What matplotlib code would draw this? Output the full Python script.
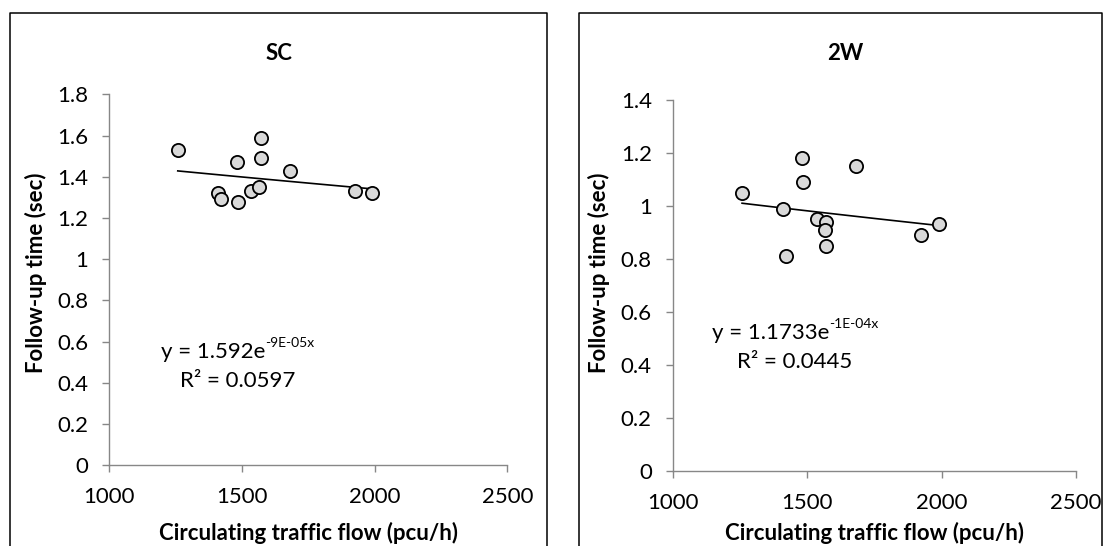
import numpy as np
import matplotlib
matplotlib.use("Agg")
import matplotlib.pyplot as plt
from matplotlib.lines import Line2D
from matplotlib.ticker import FuncFormatter

# Observed follow-up times against circulating flow
sc_flow = [1258, 1411, 1421, 1480, 1484, 1534, 1572, 1572, 1565, 1681, 1925, 1989]
sc_time = [1.53, 1.32, 1.29, 1.47, 1.28, 1.33, 1.59, 1.49, 1.35, 1.43, 1.33, 1.32]

tw_flow = [1258, 1411, 1421, 1482, 1486, 1535, 1572, 1566, 1571, 1683, 1924, 1990]
tw_time = [1.05, 0.99, 0.81, 1.18, 1.09, 0.95, 0.94, 0.91, 0.85, 1.15, 0.89, 0.93]

# Exponential trend lines y = a * exp(b * x)
sc_a, sc_b, sc_r2 = 1.592, -8.6e-5, 0.0597
tw_a, tw_b, tw_r2 = 1.1733, -1.19e-4, 0.0445

x_ticks = [1000, 1500, 2000, 2500]
sc_y_ticks = [0, 0.2, 0.4, 0.6, 0.8, 1.0, 1.2, 1.4, 1.6, 1.8]
tw_y_ticks = [0, 0.2, 0.4, 0.6, 0.8, 1.0, 1.2, 1.4]

FONT = "Lato"
plt.rcParams["font.family"] = [FONT, "DejaVu Sans"]

W, H = 1104, 546
FS = 16
fig = plt.figure(figsize=(W / 100, H / 100), dpi=100)
renderer = fig.canvas.get_renderer()

AXIS_GREY = "#878787"


def px_rect(x0, y_top, x1, y_bot):
    return [x0 / W, 1 - y_bot / H, (x1 - x0) / W, (y_bot - y_top) / H]


def equation(cx, cy, a, b, r2):
    base = f"y = {a:g}e"
    sup = f"{b:.0E}x"
    t1 = fig.text(0, 1 - cy / H, base, fontsize=FS, ha="left", va="center")
    t2 = fig.text(0, 1 - (cy - 9) / H, sup, fontsize=10, ha="left", va="center")
    w1 = t1.get_window_extent(renderer).width
    w2 = t2.get_window_extent(renderer).width
    x0 = cx - (w1 + w2) / 2
    t1.set_x(x0 / W)
    t2.set_x((x0 + w1) / W)
    fig.text(cx / W, 1 - (cy + 29) / H, f"R\u00b2 = {r2:.4f}", fontsize=FS,
             ha="center", va="center")


def panel(box, title, title_x, flow, time, a, b, r2, yticks, ymax, eq_xy, ylab_x):
    x0, y_top, x1, y_bot = box
    ax = fig.add_axes(px_rect(*box))
    ax.set_xlim(1000, 2500)
    ax.set_ylim(0, ymax)
    for side in ("top", "right"):
        ax.spines[side].set_visible(False)
    for side in ("left", "bottom"):
        ax.spines[side].set_color(AXIS_GREY)
        ax.spines[side].set_linewidth(1.0)
    ax.set_xticks(x_ticks)
    ax.set_yticks(yticks)
    ax.yaxis.set_major_formatter(FuncFormatter(lambda v, p: f"{v:g}"))
    ax.tick_params(axis="both", direction="out", length=5, width=1.0,
                   color=AXIS_GREY, labelsize=FS, labelcolor="black")
    ax.tick_params(axis="y", pad=10)
    ax.tick_params(axis="x", pad=11)

    xs = np.linspace(min(flow), max(flow), 50)
    ax.plot(xs, a * np.exp(b * xs), color="black", lw=1.2, zorder=2)
    ax.plot(flow, time, "o", ms=9.5, mfc="#d9d9d9", mec="black", mew=1.3,
            zorder=3, clip_on=False)

    fig.text((x0 + x1) / 2 / W, 1 - 540 / H, "Circulating traffic flow (pcu/h)",
             fontsize=FS, fontweight="bold", ha="center", va="baseline")
    ax.set_ylabel("Follow-up time (sec)", fontsize=FS, fontweight="bold")
    ax.yaxis.set_label_coords(ylab_x, 0.5, transform=fig.transFigure)

    fig.text(title_x / W, 1 - 53 / H, title, fontsize=FS, fontweight="bold",
             ha="center", va="center")
    equation(eq_xy[0], eq_xy[1], a, b, r2)
    return ax


# Chart frames
for fx0, fx1 in ((9.5, 547), (578.5, 1102)):
    fig.add_artist(Line2D([fx0 / W, fx0 / W, fx1 / W, fx1 / W],
                          [0, 1 - 12.5 / H, 1 - 12.5 / H, 0],
                          color="black", lw=1.1, transform=fig.transFigure))

panel((109.3, 94.5, 507.3, 465), "SC", 279, sc_flow, sc_time,
      sc_a, sc_b, sc_r2, sc_y_ticks, 1.8, (238, 352), 47 / W)
panel((672.7, 100, 1076, 470.7), "2W", 845, tw_flow, tw_time,
      tw_a, tw_b, tw_r2, tw_y_ticks, 1.4, (795, 333), 610 / W)

fig.savefig("out.png", dpi=100)
